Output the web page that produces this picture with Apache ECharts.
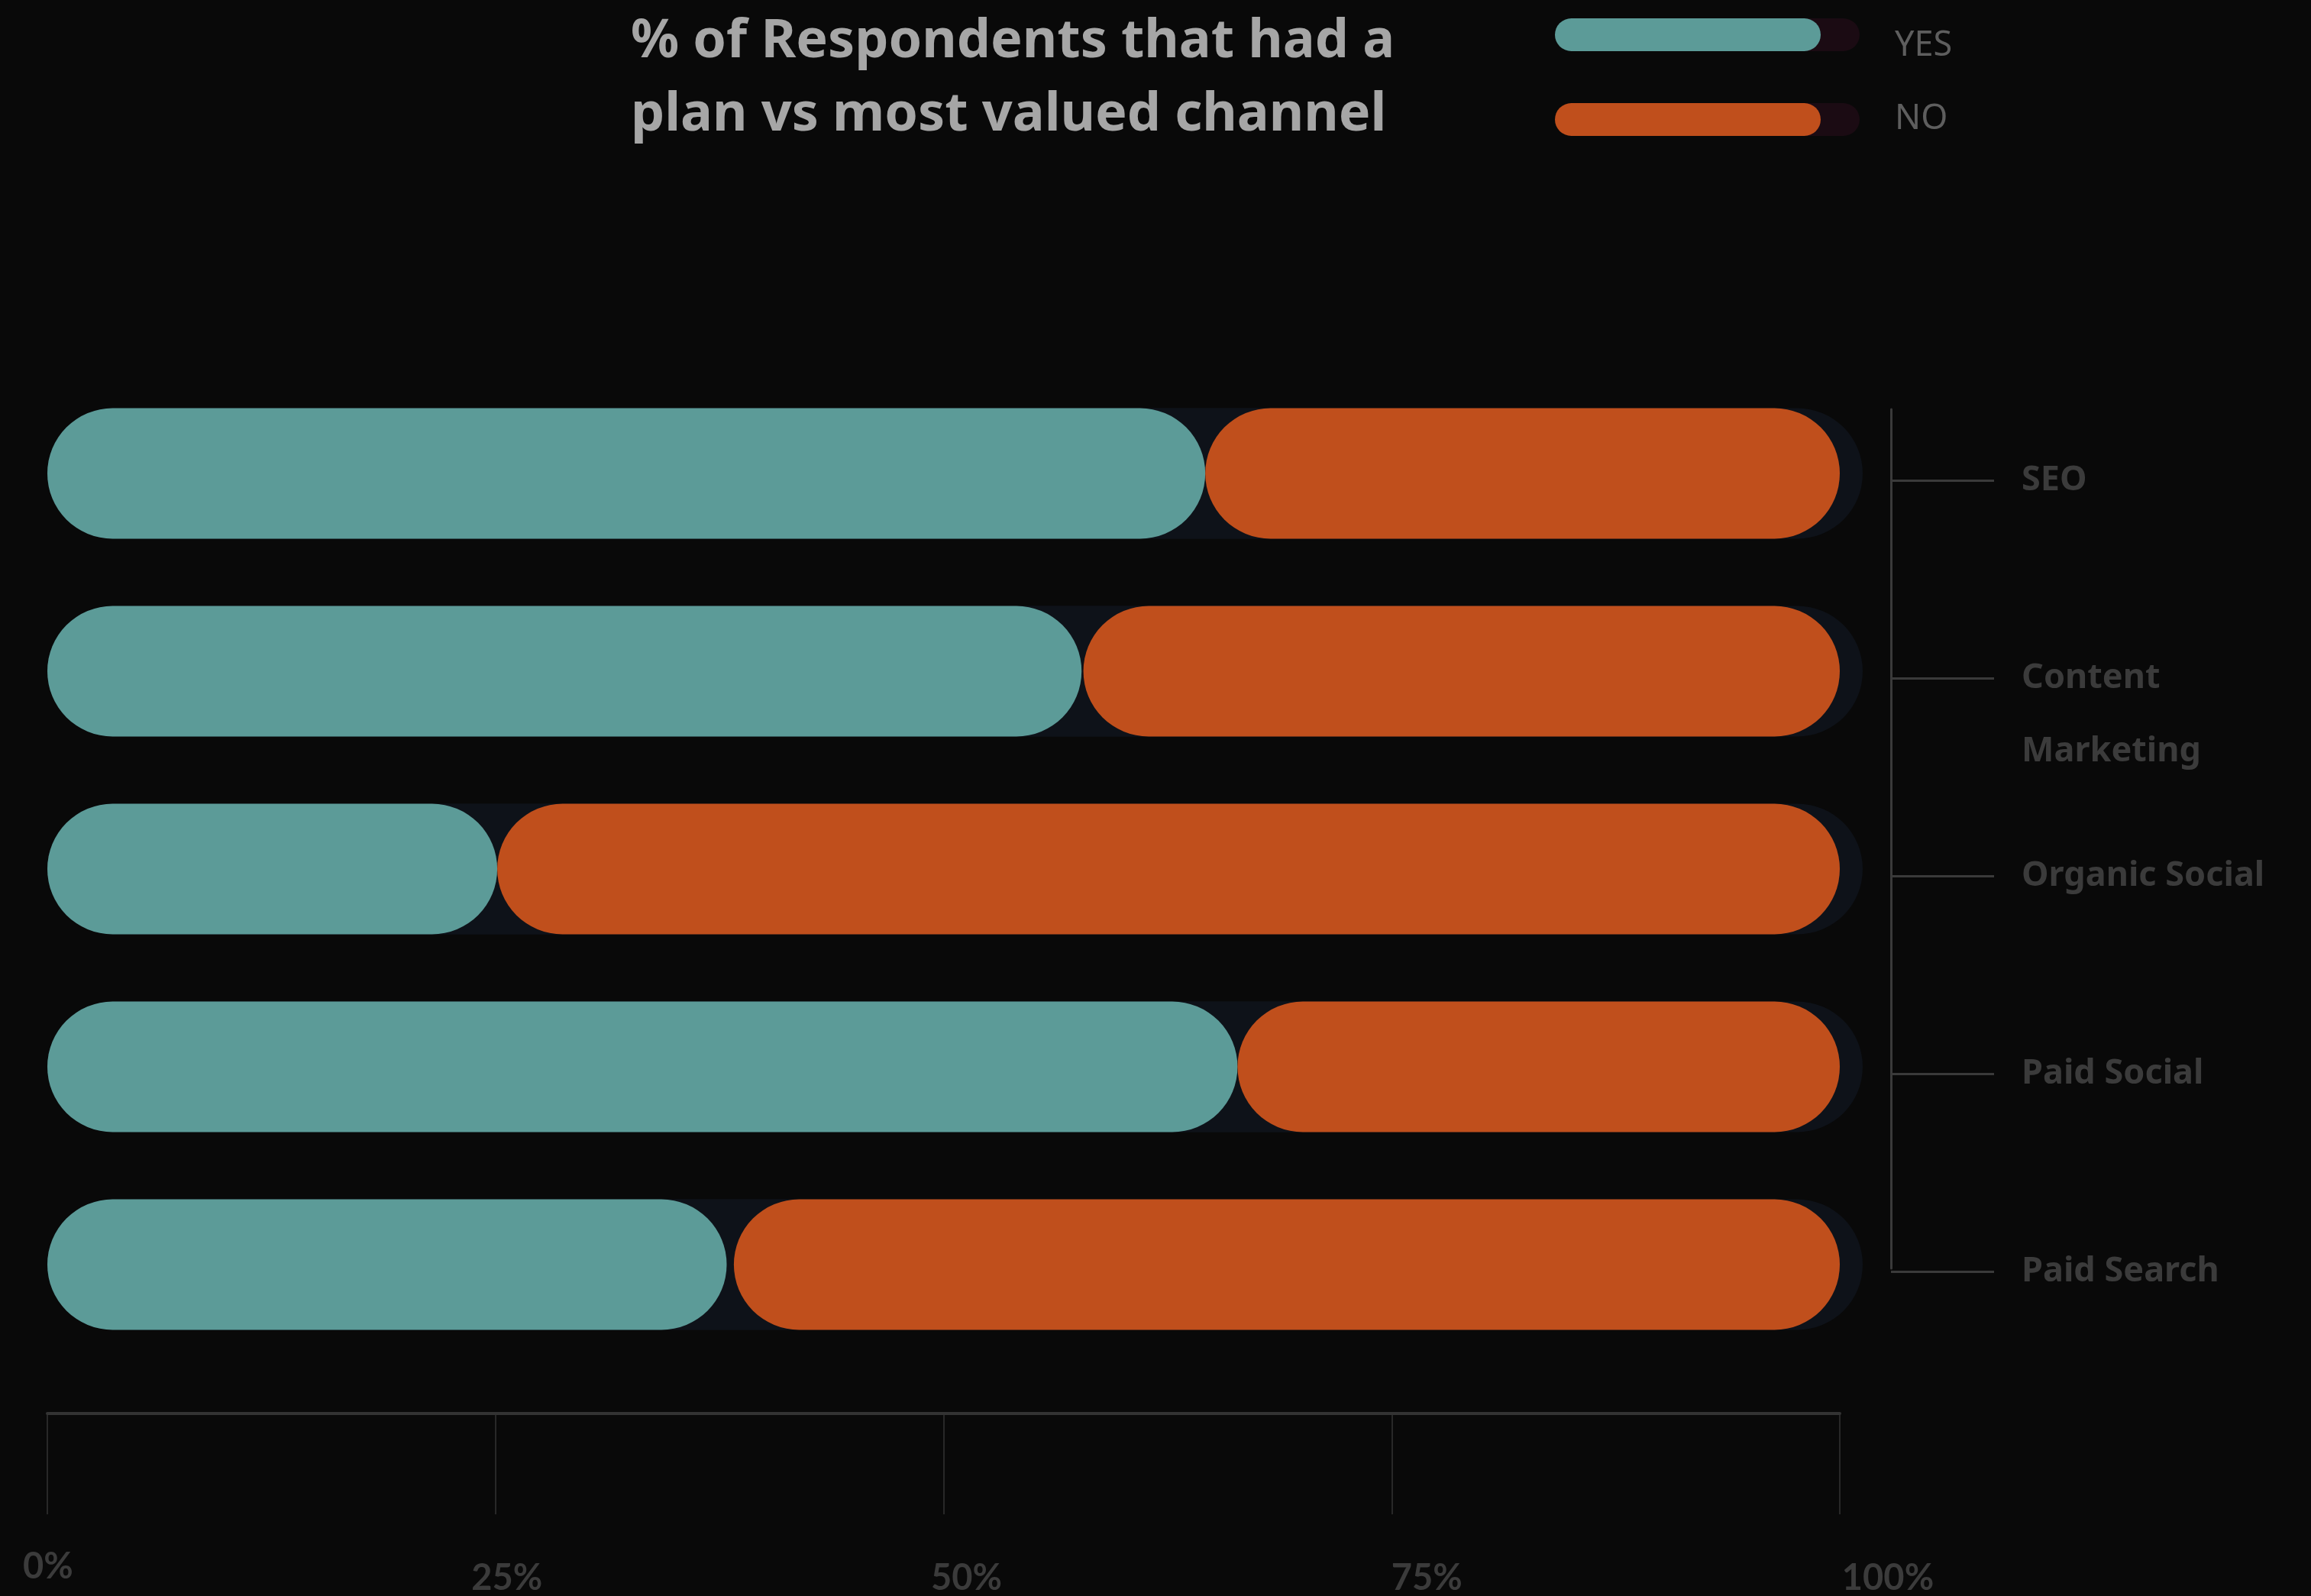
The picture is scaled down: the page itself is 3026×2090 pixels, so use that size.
<!DOCTYPE html>
<html>
<head>
<meta charset="utf-8">
<script src="https://cdn.jsdelivr.net/npm/echarts@6/dist/echarts.min.js"></script>
<style>
html,body{margin:0;padding:0;background:#090909;}
#chart{width:3026px;height:2090px;}
</style>
</head>
<body>
<div id="chart"></div>
<script>
const categories = ['SEO', 'Content Marketing', 'Organic Social', 'Paid Social', 'Paid Search'];
const yesValues = [64.6, 57.7, 25.1, 66.4, 37.9];
const noValues = [35.4, 42.2, 74.9, 33.6, 61.7];
const xTickValues = [0, 25, 50, 75, 100];
const titleText = '% of Respondents that had a\nplan vs most valued channel';

const FONT = '"Noto Sans"';
const labelColor = '#3b3b3b';
const xLabelShift = [2, 30, 60, 92, 126];
const xLabelTop = [0, 15, 15, 15, 15];
const rich = {};
xTickValues.forEach((v, i) => {
  rich['p' + i] = {
    fontFamily: 'Lato', fontWeight: 'bold', fontSize: 47, color: labelColor,
    padding: [xLabelTop[i], 0, 0, xLabelShift[i]]
  };
});

const chart = echarts.init(document.getElementById('chart'), null, {renderer: 'canvas'});
chart.setOption({
  backgroundColor: '#090909',
  animation: false,
  title: {
    text: titleText,
    left: 821, top: 2,
    textStyle: {color: '#a6a6a6', fontFamily: FONT, fontWeight: 'bold', fontSize: 70, lineHeight: 96}
  },
  legend: {
    data: ['YES', 'NO'],
    orient: 'vertical',
    left: 2031, top: 3,
    itemWidth: 348, itemHeight: 43, itemGap: 51,
    icon: 'path://M21.5 0H326.5A21.5 21.5 0 0 1 326.5 43H21.5A21.5 21.5 0 0 1 21.5 0Z',
    itemStyle: {shadowColor: '#1b0b13', shadowOffsetX: 51, shadowBlur: 0},
    formatter: (name) => name === 'YES' ? ' \n' + name : name,
    textStyle: {color: '#5e5e5e', fontFamily: FONT, fontSize: 45, lineHeight: 30, padding: [0, 0, 0, 92]}
  },
  grid: [
    {left: 62, right: 617, top: 490.5, bottom: 304.5, outerBoundsMode: 'none', containLabel: false},
    {left: 62, right: 617, top: 536, bottom: 429, outerBoundsMode: 'none', containLabel: false},
    {left: 62, right: 617, top: 499.5, bottom: 295.5, outerBoundsMode: 'none', containLabel: false}
  ],
  xAxis: [
    {
      type: 'value', gridIndex: 0, min: 0, max: 100, interval: 25, position: 'bottom', offset: 65.5,
      axisLine: {show: true, onZero: false, lineStyle: {color: '#333333', width: 4}},
      axisTick: {show: true, length: 132, lineStyle: {color: '#333333', width: 1.5}},
      splitLine: {show: false},
      axisLabel: {
        margin: 177,
        formatter: (v) => '{p' + xTickValues.indexOf(v) + '|' + v + '%}',
        rich: rich
      }
    },
    {type: 'value', gridIndex: 0, min: 0, max: 100, inverse: true, show: false},
    {type: 'value', gridIndex: 1, min: 0, max: 1, show: false},
    {type: 'value', gridIndex: 2, min: 0, max: 1, show: false}
  ],
  yAxis: [
    {type: 'category', gridIndex: 0, data: categories, inverse: true, show: false},
    {
      type: 'value', gridIndex: 1, min: 0, max: 1, position: 'right', offset: 67,
      axisLine: {show: true, onZero: false, lineStyle: {color: '#3a3a3a', width: 3}},
      axisTick: {show: false}, axisLabel: {show: false}, splitLine: {show: false}
    },
    {
      type: 'category', gridIndex: 2, data: categories, inverse: true, position: 'right', offset: 67,
      axisLine: {show: true, onZero: false, lineStyle: {color: 'rgba(0,0,0,0)', width: 0}},
      axisTick: {show: true, alignWithLabel: true, length: 135, lineStyle: {color: '#3a3a3a', width: 3}},
      splitLine: {show: false},
      axisLabel: {
        margin: 171, color: labelColor, fontFamily: FONT, fontWeight: 'bold', fontSize: 45, lineHeight: 96,
        align: 'left',
        formatter: (v) => v === 'Content Marketing' ? ' \nContent\nMarketing' : v
      }
    }
  ],
  series: [
    {
      name: 'YES', type: 'bar', xAxisIndex: 0, yAxisIndex: 0, data: yesValues,
      barWidth: 171, barGap: '-100%',
      itemStyle: {color: '#5c9b98', borderRadius: 85.5},
      showBackground: true,
      backgroundStyle: {color: '#0e1219', borderRadius: 85.5, shadowColor: '#0e1219', shadowOffsetX: 30, shadowBlur: 0}
    },
    {
      name: 'NO', type: 'bar', xAxisIndex: 1, yAxisIndex: 0, data: noValues,
      barWidth: 171, barGap: '-100%',
      itemStyle: {color: '#c04f1c', borderRadius: 85.5}
    }
  ]
});
</script>
</body>
</html>
